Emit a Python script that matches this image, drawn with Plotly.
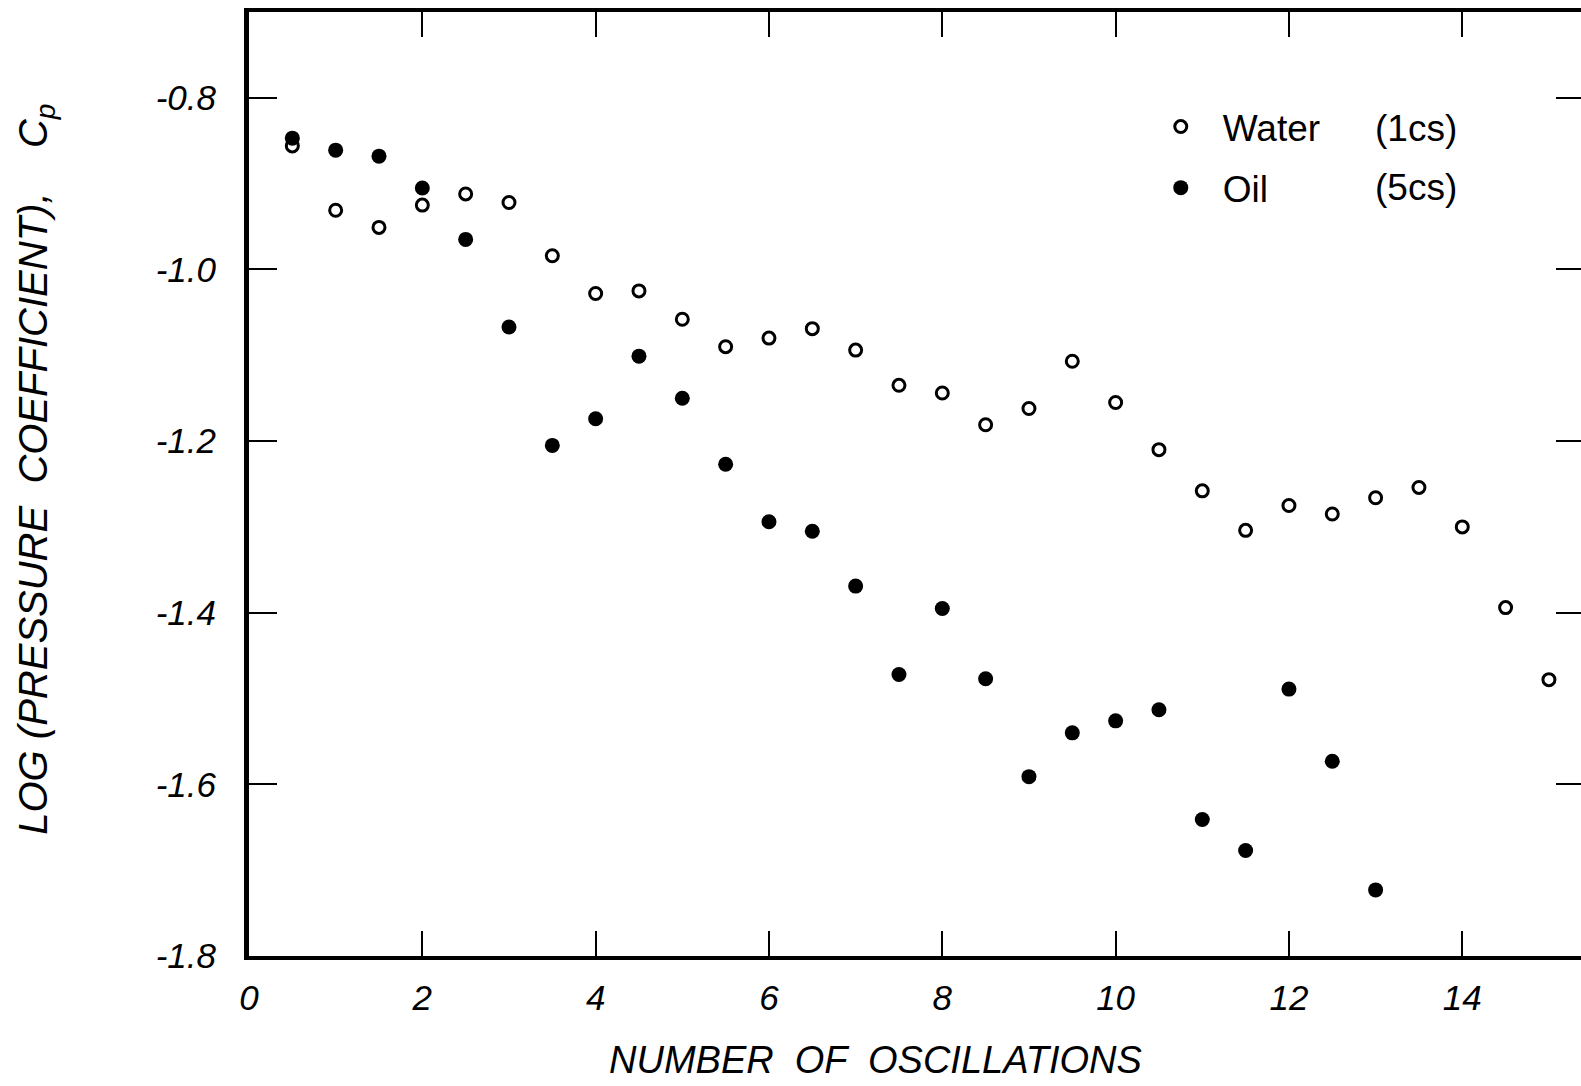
import plotly.graph_objects as go

# Number of oscillations (half-cycle spacing)
water_n = [0.5, 1, 1.5, 2, 2.5, 3, 3.5, 4, 4.5, 5, 5.5, 6, 6.5, 7, 7.5,
           8, 8.5, 9, 9.5, 10, 10.5, 11, 11.5, 12, 12.5, 13, 13.5, 14, 14.5, 15]
water_logcp = [-0.856, -0.931, -0.951, -0.925, -0.912, -0.922, -0.984, -1.028,
               -1.025, -1.058, -1.090, -1.080, -1.069, -1.094, -1.135, -1.144,
               -1.181, -1.162, -1.107, -1.155, -1.210, -1.258, -1.304, -1.275,
               -1.285, -1.266, -1.254, -1.300, -1.394, -1.478]

oil_n = [0.5, 1, 1.5, 2, 2.5, 3, 3.5, 4, 4.5, 5, 5.5, 6, 6.5, 7, 7.5,
         8, 8.5, 9, 9.5, 10, 10.5, 11, 11.5, 12, 12.5, 13]
oil_logcp = [-0.847, -0.861, -0.868, -0.905, -0.965, -1.067, -1.205, -1.174,
             -1.101, -1.150, -1.227, -1.294, -1.305, -1.369, -1.472, -1.395,
             -1.477, -1.591, -1.540, -1.526, -1.513, -1.641, -1.677, -1.489,
             -1.573, -1.723]

x_ticks = [0, 2, 4, 6, 8, 10, 12, 14]
x_tick_text = ["0", "2", "4", "6", "8", "10", "12", "14"]
y_ticks = [-0.8, -1.0, -1.2, -1.4, -1.6, -1.8]
y_tick_text = ["-0.8", "-1.0", "-1.2", "-1.4", "-1.6", "-1.8"]

series_names = ["Water", "Oil"]
viscosity_text = ["(1cs)", "(5cs)"]

x_range = [0, 15.37]
y_range = [-1.8, -0.7]

FONT = "Liberation Sans, Arial, sans-serif"
INK = "#000000"

fig = go.Figure()

fig.add_trace(go.Scatter(
    x=water_n, y=water_logcp, mode="markers", name=series_names[0],
    legendgroup="water",
    marker=dict(symbol="circle-open", size=12, color=INK, line=dict(width=3, color=INK)),
    xaxis="x", yaxis="y",
))
fig.add_trace(go.Scatter(
    x=oil_n, y=oil_logcp, mode="markers", name=series_names[1],
    legendgroup="oil",
    marker=dict(symbol="circle", size=15, color=INK),
    xaxis="x2", yaxis="y2",
))

tick_font = dict(family=FONT, size=35, color=INK, style="italic")

fig.update_layout(
    width=1581, height=1086,
    margin=dict(l=249, r=0, t=12, b=130),
    paper_bgcolor="white", plot_bgcolor="white",
    showlegend=True,
    legend=dict(
        x=0.668, y=0.911, xanchor="left", yanchor="top",
        font=dict(family=FONT, size=37, color=INK),
        bgcolor="rgba(0,0,0,0)", itemwidth=74,
        tracegroupgap=10,
    ),
    xaxis=dict(
        range=x_range, showgrid=False, zeroline=False,
        showline=True, linewidth=4, linecolor=INK,
        ticks="inside", ticklen=25, tickwidth=2, tickcolor=INK,
        tickvals=x_ticks, ticktext=x_tick_text, tickfont=tick_font,
        ticklabelstandoff=8,
    ),
    yaxis=dict(
        range=y_range, showgrid=False, zeroline=False,
        showline=True, linewidth=5, linecolor=INK,
        ticks="inside", ticklen=28, tickwidth=2, tickcolor=INK,
        tickvals=y_ticks, ticktext=y_tick_text, tickfont=tick_font,
        ticklabelstandoff=21,
    ),
    xaxis2=dict(
        range=x_range, overlaying="x", side="top", anchor="y2",
        showgrid=False, zeroline=False,
        showline=True, linewidth=4, linecolor=INK,
        ticks="inside", ticklen=25, tickwidth=2, tickcolor=INK,
        tickvals=x_ticks[1:], showticklabels=False,
    ),
    yaxis2=dict(
        range=y_range, overlaying="y", side="right", anchor="x2",
        showgrid=False, zeroline=False, showline=False,
        ticks="inside", ticklen=25, tickwidth=2, tickcolor=INK,
        tickvals=y_ticks[:-1], showticklabels=False,
    ),
)

title_font = dict(family=FONT, size=40, color=INK, style="italic")

fig.add_annotation(
    text="NUMBER  OF  OSCILLATIONS", xref="paper", yref="paper",
    x=0.470, y=-0.110, xanchor="center", yanchor="middle",
    showarrow=False, font=dict(family=FONT, size=38, color=INK, style="italic"),
)
fig.add_annotation(
    text="LOG (PRESSURE  COEFFICIENT),&nbsp;&nbsp;&nbsp;&nbsp;C<sub>p</sub>",
    xref="paper", yref="paper", x=-0.160, y=0.516,
    xanchor="center", yanchor="middle", textangle=-90,
    showarrow=False, font=title_font,
)

for label, ypos in zip(viscosity_text, [0.877, 0.8136]):
    fig.add_annotation(
        text=label, xref="paper", yref="paper", x=0.844, y=ypos,
        xanchor="left", yanchor="middle", showarrow=False,
        font=dict(family=FONT, size=37, color=INK),
    )

fig.write_html("out.html")
